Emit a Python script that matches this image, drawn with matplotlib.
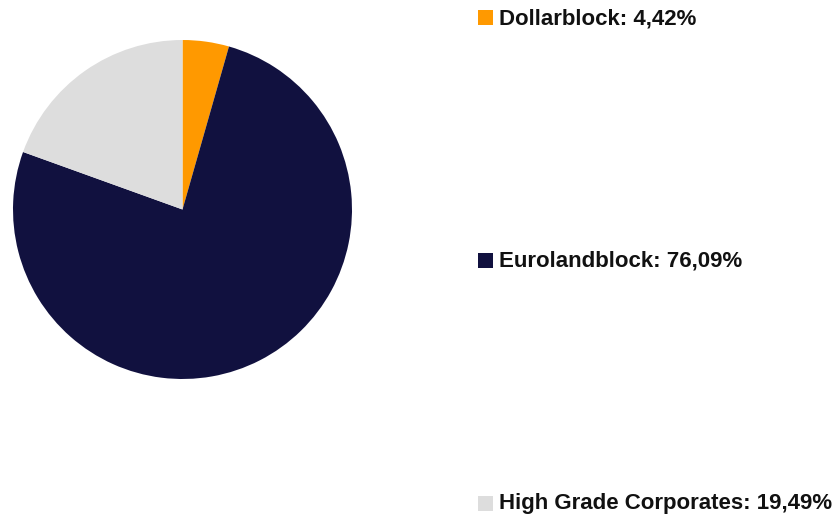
import matplotlib.pyplot as plt
from matplotlib.patches import Rectangle

# Dati
categorie = ['Dollarblock', 'Eurolandblock', 'High Grade Corporates']
quote = [4.42, 76.09, 19.49]
colori = ['#FF9900', '#11113F', '#DDDDDD']

W, H = 839, 519
fig = plt.figure(figsize=(W / 100, H / 100), dpi=100)

# Torta: centro (182.5, 209.5) px, raggio 169.5 px
cx, cy, r = 182.5, 209.5, 169.5
ax = fig.add_axes([(cx - r) / W, (H - cy - r) / H, 2 * r / W, 2 * r / H])
ax.pie(quote, colors=colori, startangle=90, counterclock=False, radius=1,
       wedgeprops=dict(linewidth=0))
ax.set_xlim(-1, 1)
ax.set_ylim(-1, 1)
ax.set_aspect('equal')
ax.axis('off')

# Legenda manuale
legenda_y = [17.5, 260, 503]
for nome, q, col, y in zip(categorie, quote, colori, legenda_y):
    fig.patches.append(Rectangle((478 / W, (H - y - 7.5) / H), 15 / W, 15 / H,
                                 transform=fig.transFigure, facecolor=col,
                                 edgecolor='none'))
    testo = f'{nome}: {q:.2f}%'.replace('.', ',')
    fig.text(499 / W, (H - y - 1) / H, testo, fontsize=16, fontweight='bold',
             family='Liberation Sans', va='center', ha='left', color='#111111')

plt.savefig('out.png', dpi=100)
